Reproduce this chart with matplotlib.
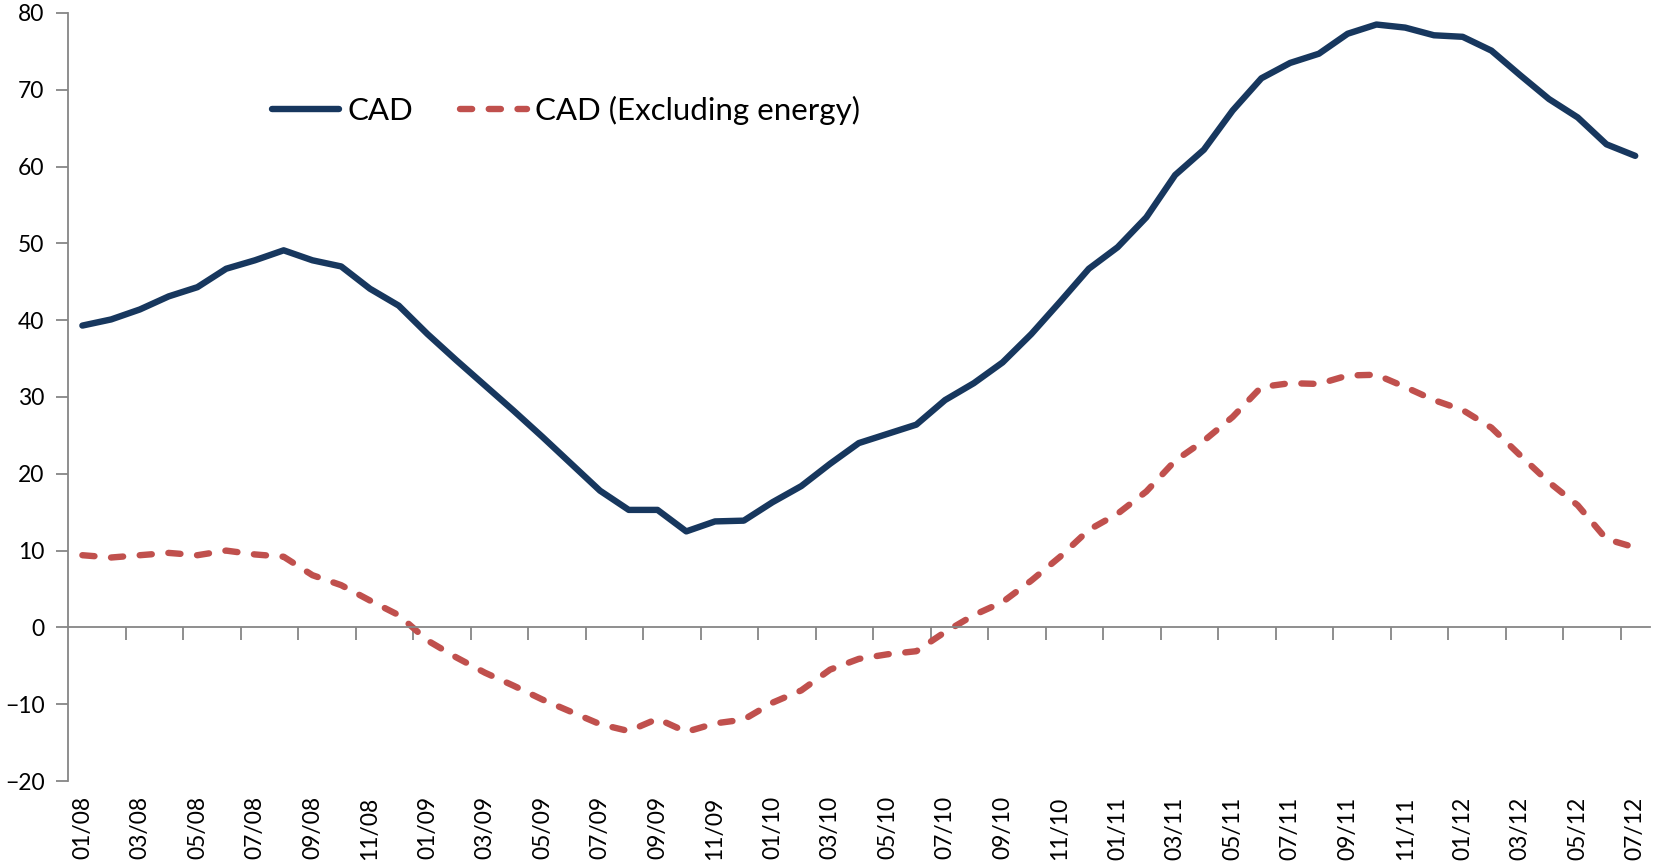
#!/usr/bin/env python3
# -*- coding: utf-8 -*-
import numpy as np
import matplotlib
matplotlib.use('Agg')
import matplotlib.pyplot as plt

plt.rcParams['font.family'] = ['Lato', 'DejaVu Sans']

# monthly, 01/08 .. 07/12
months = ['%02d/%02d' % (m, y) for y in range(8, 13) for m in range(1, 13)][:55]

cad = [39.3, 40.1, 41.4, 43.1, 44.3, 46.7, 47.8, 49.1, 47.8, 47.0,
       44.1, 41.9, 38.2, 34.8, 31.5, 28.2, 24.8, 21.3, 17.8, 15.3,
       15.3, 12.5, 13.8, 13.9, 16.3, 18.4, 21.3, 24.0, 25.2, 26.4,
       29.6, 31.8, 34.5, 38.2, 42.4, 46.7, 49.5, 53.4, 58.9, 62.2,
       67.3, 71.5, 73.5, 74.7, 77.3, 78.5, 78.1, 77.1, 76.9, 75.1,
       71.9, 68.8, 66.4, 62.9, 61.4]

cad_ex_energy = [9.4, 9.1, 9.4, 9.7, 9.4, 10.0, 9.5, 9.2, 6.8, 5.5,
                 3.5, 1.6, -1.7, -3.9, -5.9, -7.6, -9.4, -11.0, -12.6, -13.5,
                 -11.9, -13.6, -12.5, -12.0, -9.8, -8.2, -5.5, -4.1, -3.5, -3.1,
                 -0.6, 1.6, 3.3, 6.1, 9.2, 12.7, 14.8, 17.7, 21.7, 24.3,
                 27.4, 31.3, 31.8, 31.7, 32.8, 32.9, 31.3, 29.6, 28.3, 26.0,
                 22.4, 18.9, 15.9, 11.5, 10.4]

x = np.arange(len(months))
grey = '#868686'

fig = plt.figure(figsize=(16.62, 8.68), dpi=100)
ax = fig.add_axes([68/1662, 1-781/868, (1649.6-68)/1662, (781-13)/868])

ax.plot(x, cad, color='#17375E', lw=4.6, solid_capstyle='round',
        solid_joinstyle='round', label='CAD')
ax.plot(x, cad_ex_energy, color='#C0504D', lw=4.6, dashes=(1.9, 2.6),
        dash_capstyle='round', label='CAD (Excluding energy)')

ax.set_xlim(-0.5, len(months) - 0.5)
ax.set_ylim(-20, 80)
ax.set_yticks(np.arange(-20, 81, 10))
ax.tick_params(axis='y', direction='out', length=9, width=1.3, color=grey,
               pad=8, labelsize=16.5)

# category axis crosses at 0, ticks between categories every 2 months
ax.spines['bottom'].set_position(('data', 0))
ax.set_xticks(np.arange(1.5, len(months), 2))
ax.tick_params(axis='x', direction='out', length=9, width=1.3, color=grey,
               labelbottom=False)

for s in ['top', 'right']:
    ax.spines[s].set_visible(False)
for s in ['left', 'bottom']:
    ax.spines[s].set_color(grey)
    ax.spines[s].set_linewidth(1.3)

# labels sit below the plot (low position)
sec = ax.secondary_xaxis(0)
sec.set_xticks(x[::2])
sec.set_xticklabels(months[::2], rotation=90, fontsize=16.5)
sec.tick_params(length=0, pad=11)
sec.spines['bottom'].set_visible(False)

ax.legend(loc='center left', bbox_to_anchor=(0.129, 0.873), ncol=2,
          frameon=False, fontsize=22.5, handlelength=2.15, handletextpad=0.25,
          columnspacing=1.5, borderpad=0, borderaxespad=0)

plt.savefig('out.png', dpi=100)
